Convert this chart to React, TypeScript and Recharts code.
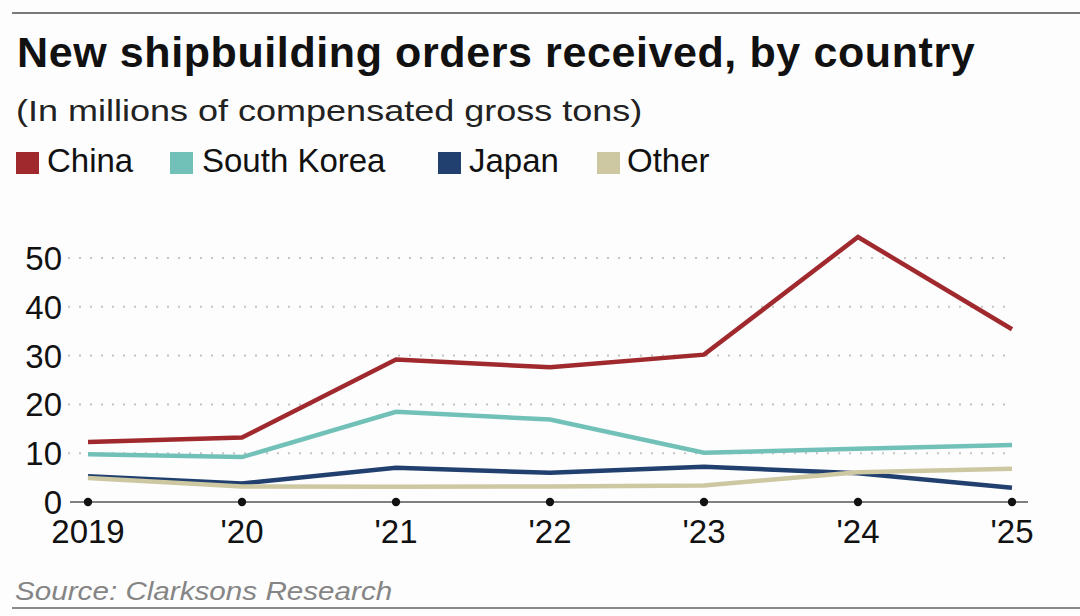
import React from 'react';
import { LineChart, Line, XAxis, YAxis, CartesianGrid } from 'recharts';

const years = ['2019', "'20", "'21", "'22", "'23", "'24", "'25"];
const china = [12.3, 13.2, 29.2, 27.6, 30.2, 54.3, 35.4];
const southKorea = [9.8, 9.2, 18.5, 16.9, 10.1, 10.9, 11.7];
const japan = [5.3, 3.8, 7.0, 6.0, 7.2, 5.9, 2.9];
const other = [4.9, 3.2, 3.1, 3.2, 3.4, 6.1, 6.8];
const yTicks = [0, 10, 20, 30, 40, 50];
const gridValues = [10, 20, 30, 40, 50];

const series = [
  { key: 'japan', name: 'Japan', color: '#21406f' },
  { key: 'other', name: 'Other', color: '#cdc7a2' },
  { key: 'southKorea', name: 'South Korea', color: '#72c1b9' },
  { key: 'china', name: 'China', color: '#a0292e' },
];
// legend: key, square left, text left
const legendItems = [
  { key: 'china', sq: 16, tx: 47 },
  { key: 'southKorea', sq: 170, tx: 202 },
  { key: 'japan', sq: 438, tx: 469 },
  { key: 'other', sq: 597, tx: 627 },
];

const data = years.map((year, i) => ({
  year,
  china: china[i],
  southKorea: southKorea[i],
  japan: japan[i],
  other: other[i],
}));

const FONT = '"Liberation Sans", Arial, sans-serif';

const XTick = (props: any) => {
  const { x, y, payload } = props;
  return (
    <g>
      <circle cx={x} cy={y} r={4.2} fill="#111" />
      <text x={x} y={y + 41} textAnchor="middle" fontSize={33} fill="#111" fontFamily={FONT}>
        {payload.value}
      </text>
    </g>
  );
};

const YTick = (props: any) => {
  const { x, y, payload } = props;
  return (
    <text x={x - 8} y={y + 12} textAnchor="end" fontSize={33} fill="#111" fontFamily={FONT}>
      {payload.value}
    </text>
  );
};

export default function App() {
  return (
    <div
      style={{
        position: 'absolute',
        top: 0,
        left: 0,
        width: 1080,
        height: 616,
        background: '#fdfdfd',
        fontFamily: FONT,
        overflow: 'hidden',
      }}
    >
      <div style={{ position: 'absolute', top: 12, left: 12, right: 0, height: 2, background: '#7a7a7a' }} />
      <div
        style={{
          position: 'absolute',
          top: 28,
          left: 17,
          fontSize: 43,
          fontWeight: 700,
          color: '#111',
          whiteSpace: 'nowrap',
          letterSpacing: 0.6,
        }}
      >
        New shipbuilding orders received, by country
      </div>
      <div
        style={{
          position: 'absolute',
          top: 94,
          left: 16,
          fontSize: 30,
          color: '#222',
          whiteSpace: 'nowrap',
          transform: 'scaleX(1.2)',
          transformOrigin: 'left center',
        }}
      >
        (In millions of compensated gross tons)
      </div>
      {legendItems.map((it) => {
        const s = series.find((d) => d.key === it.key)!;
        return (
          <React.Fragment key={it.key}>
            <span
              style={{ position: 'absolute', left: it.sq, top: 152, width: 23, height: 22, background: s.color }}
            />
            <span
              style={{
                position: 'absolute',
                left: it.tx,
                top: 142,
                fontSize: 33,
                color: '#111',
                whiteSpace: 'nowrap',
              }}
            >
              {s.name}
            </span>
          </React.Fragment>
        );
      })}
      <div style={{ position: 'absolute', top: 200, left: 0 }}>
        <LineChart width={1080} height={360} data={data} margin={{ top: 33.6, right: 52, bottom: 0, left: 0 }}>
          <CartesianGrid
            horizontal
            vertical={false}
            horizontalValues={gridValues}
            x={68}
            width={940}
            stroke="#c4c4c4"
            strokeWidth={2}
            strokeDasharray="2 9"
          />
          <YAxis
            type="number"
            domain={[0, 55]}
            ticks={yTicks}
            width={70}
            axisLine={false}
            tickLine={false}
            tickSize={0}
            tickMargin={0}
            tick={<YTick />}
            interval={0}
          />
          <XAxis
            dataKey="year"
            height={58}
            padding={{ left: 18, right: 16 }}
            axisLine={{ stroke: '#808080', strokeWidth: 2 }}
            tickLine={false}
            tickSize={0}
            tickMargin={0}
            tick={<XTick />}
            interval={0}
          />
          {series.map((s) => (
            <Line
              key={s.key}
              type="linear"
              dataKey={s.key}
              stroke={s.color}
              strokeWidth={4.5}
              dot={false}
              activeDot={false}
              isAnimationActive={false}
            />
          ))}
        </LineChart>
      </div>
      <div
        style={{
          position: 'absolute',
          top: 576,
          left: 15,
          fontSize: 26,
          fontStyle: 'italic',
          color: '#858585',
          whiteSpace: 'nowrap',
          transform: 'scaleX(1.14)',
          transformOrigin: 'left center',
        }}
      >
        Source: Clarksons Research
      </div>
      <div style={{ position: 'absolute', top: 607, left: 12, right: 0, height: 2, background: '#8a8a8a' }} />
    </div>
  );
}
